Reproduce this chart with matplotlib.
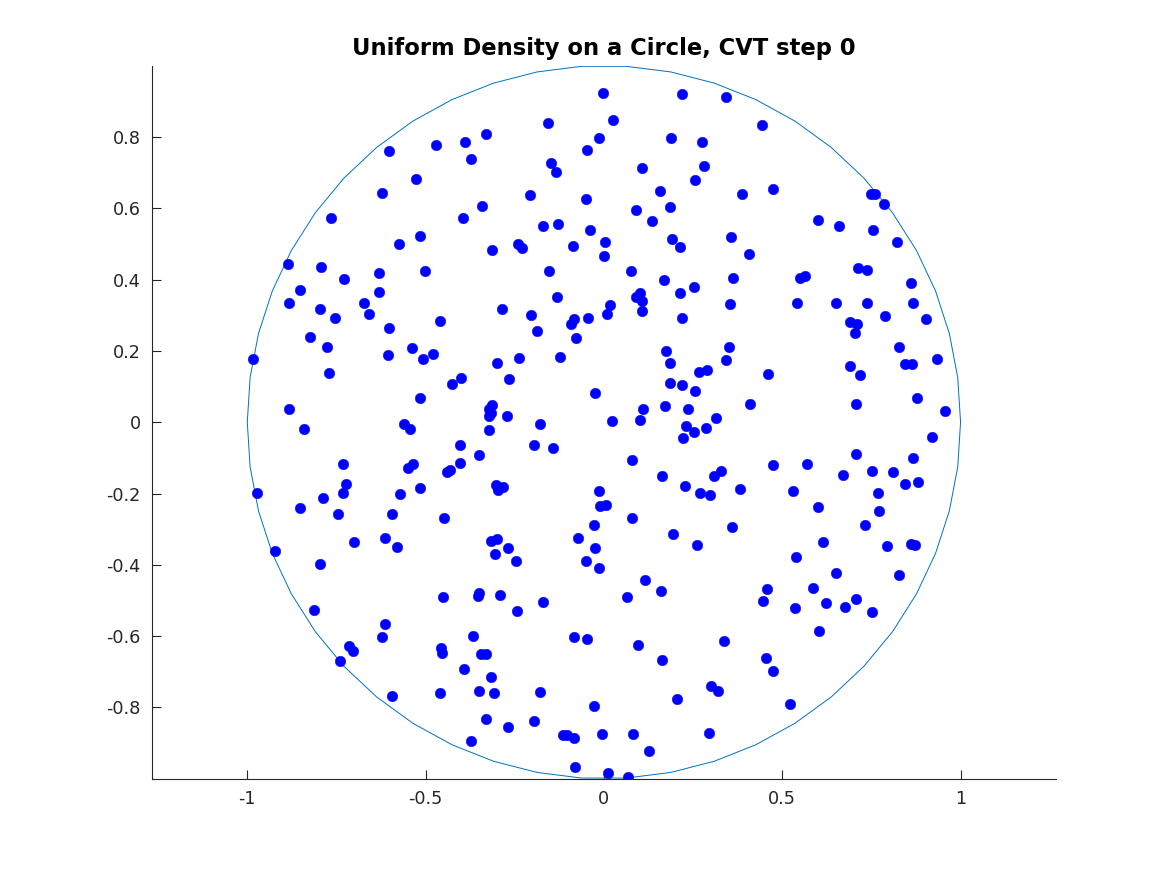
import numpy as np
import matplotlib
matplotlib.use('Agg')
import matplotlib.pyplot as plt

# Generator sites (x, y in data units), grouped by region
x_pts = [
    # upper left
    -0.603, -0.526, -0.622, -0.764, -0.515, -0.575, -0.885, -0.794, -0.729, -0.632, -0.851, -0.630,
    -0.157, -0.470, -0.389, -0.331, -0.373, -0.015, -0.048, -0.148, -0.134, -0.208, -0.050, -0.342,
    -0.395, -0.171, -0.129, -0.038, -0.313, -0.241, -0.230, -0.086, -0.503, -0.155, -0.132,
    # upper right
    -0.002, 0.219, 0.341, 0.025, 0.442, 0.189, 0.275, 0.108, 0.281, 0.254, 0.156, 0.388, 0.473,
    0.090, 0.184, 0.136, 0.002, 0.000, 0.191, 0.214, 0.357, 0.407, 0.077, 0.168, 0.361, 0.213,
    0.252, 0.089, 0.102, 0.108,
    0.750, 0.761, 0.784, 0.601, 0.658, 0.754, 0.821, 0.713, 0.739, 0.550, 0.563, 0.862,
    # middle left
    -0.884, -0.797, -0.672, -0.658, -0.755, -0.602, -0.824, -0.777, -0.537, -0.606, -0.984, -0.771,
    -0.516, -0.884, -0.841, -0.561, -0.545, -0.733, -0.535, -0.548, -0.724, -0.732, -0.973, -0.787,
    -0.572, -0.516, -0.852, -0.747, -0.594, -0.613,
    -0.286, -0.459, -0.204, -0.187, -0.093, -0.085, -0.045, -0.078, -0.478, -0.506, -0.301, -0.238,
    -0.122, -0.401, -0.425, -0.267, -0.024, -0.314, -0.321, -0.317, -0.323, -0.271, -0.178, -0.321,
    -0.403, -0.197, -0.143, -0.349, -0.404, -0.432, -0.440, -0.302, -0.282, -0.296, -0.014, -0.011,
    -0.449, -0.028, -0.072, -0.317, -0.301,
    # middle right
    0.016, 0.009, 0.107, 0.353, 0.218, 0.175, 0.352, 0.341, 0.184, 0.267, 0.290, 0.459, 0.184,
    0.220, 0.256, 0.410, 0.109, 0.170, 0.235, 0.102, 0.022, 0.314, 0.229, 0.252, 0.223, 0.285,
    0.080, 0.162, 0.309, 0.329, 0.473, 0.227, 0.268, 0.298, 0.381, 0.006, 0.078, 0.358, 0.195,
    0.540, 0.652, 0.739, 0.868, 0.787, 0.904, 0.690, 0.711, 0.703, 0.828, 0.934, 0.845, 0.864,
    0.689, 0.719, 0.878, 0.706, 0.956, 0.920, 0.707, 0.866, 0.569, 0.669, 0.752, 0.811, 0.843,
    0.880, 0.530, 0.768, 0.600, 0.772, 0.732,
    # lower left
    -0.702, -0.579, -0.923, -0.797, -0.812, -0.615, -0.622, -0.716, -0.704, -0.740, -0.595,
    -0.269, -0.305, -0.246, -0.025, -0.049, -0.014, -0.452, -0.349, -0.352, -0.291, -0.172, -0.243,
    -0.368, -0.084, -0.048, -0.457, -0.453, -0.346, -0.332, -0.391, -0.317, -0.459, -0.350, -0.307,
    -0.180, -0.028, -0.330, -0.270, -0.196, -0.373, -0.116, -0.104, -0.085, -0.081,
    # lower right
    0.261, 0.115, 0.159, 0.064, 0.456, 0.445, 0.096, 0.163, 0.337, 0.455, 0.473, 0.301, 0.320,
    0.206, -0.006, 0.082, 0.294, 0.127, 0.012, 0.068,
    0.615, 0.794, 0.860, 0.871, 0.538, 0.650, 0.827, 0.587, 0.623, 0.537, 0.677, 0.707, 0.751,
    0.603, 0.522,
]
y_pts = [
    # upper left
    0.760, 0.683, 0.642, 0.573, 0.521, 0.500, 0.445, 0.434, 0.401, 0.418, 0.372, 0.365,
    0.838, 0.777, 0.786, 0.809, 0.737, 0.796, 0.763, 0.726, 0.702, 0.638, 0.627, 0.606,
    0.572, 0.550, 0.557, 0.540, 0.483, 0.499, 0.489, 0.493, 0.423, 0.425, 0.352,
    # upper right
    0.922, 0.921, 0.911, 0.848, 0.834, 0.797, 0.787, 0.713, 0.719, 0.680, 0.648, 0.641, 0.655,
    0.595, 0.603, 0.563, 0.506, 0.465, 0.513, 0.491, 0.518, 0.471, 0.425, 0.400, 0.405, 0.362,
    0.380, 0.351, 0.362, 0.339,
    0.639, 0.641, 0.613, 0.568, 0.549, 0.539, 0.504, 0.432, 0.428, 0.403, 0.409, 0.389,
    # middle left
    0.334, 0.318, 0.334, 0.303, 0.291, 0.263, 0.240, 0.211, 0.207, 0.188, 0.178, 0.139,
    0.067, 0.037, -0.020, -0.006, -0.018, -0.116, -0.116, -0.129, -0.173, -0.198, -0.199, -0.213,
    -0.201, -0.184, -0.240, -0.257, -0.257, -0.326,
    0.318, 0.284, 0.302, 0.257, 0.276, 0.290, 0.292, 0.235, 0.191, 0.176, 0.165, 0.181,
    0.184, 0.124, 0.107, 0.121, 0.083, 0.047, 0.038, 0.025, 0.017, 0.018, -0.004, -0.022,
    -0.065, -0.064, -0.071, -0.093, -0.114, -0.134, -0.141, -0.176, -0.183, -0.191, -0.194, -0.234,
    -0.270, -0.289, -0.325, -0.332, -0.328,
    # middle right
    0.328, 0.303, 0.313, 0.331, 0.293, 0.201, 0.211, 0.174, 0.166, 0.140, 0.146, 0.134, 0.111,
    0.104, 0.087, 0.052, 0.037, 0.044, 0.036, 0.007, 0.002, 0.013, -0.010, -0.028, -0.044, -0.017,
    -0.105, -0.151, -0.151, -0.137, -0.120, -0.178, -0.199, -0.203, -0.187, -0.233, -0.269, -0.294, -0.313,
    0.334, 0.334, 0.334, 0.334, 0.297, 0.288, 0.282, 0.274, 0.251, 0.211, 0.178, 0.162, 0.162,
    0.157, 0.131, 0.067, 0.052, 0.030, -0.042, -0.088, -0.100, -0.118, -0.148, -0.136, -0.139, -0.173,
    -0.169, -0.192, -0.199, -0.237, -0.249, -0.287,
    # lower left
    -0.336, -0.350, -0.362, -0.397, -0.527, -0.565, -0.602, -0.629, -0.641, -0.671, -0.767,
    -0.354, -0.371, -0.388, -0.352, -0.389, -0.410, -0.490, -0.478, -0.488, -0.485, -0.504, -0.530,
    -0.599, -0.602, -0.608, -0.633, -0.648, -0.651, -0.651, -0.693, -0.716, -0.760, -0.753, -0.759,
    -0.758, -0.796, -0.833, -0.854, -0.838, -0.893, -0.878, -0.878, -0.885, -0.966,
    # lower right
    -0.345, -0.442, -0.473, -0.490, -0.467, -0.501, -0.625, -0.666, -0.615, -0.662, -0.697, -0.739, -0.754,
    -0.776, -0.875, -0.875, -0.872, -0.922, -0.984, -0.994,
    -0.336, -0.347, -0.343, -0.345, -0.377, -0.424, -0.429, -0.465, -0.506, -0.522, -0.518, -0.496, -0.533,
    -0.586, -0.789,
]

x_ticks = [-1, -0.5, 0, 0.5, 1]
x_tick_labels = ['-1', '-0.5', '0', '0.5', '1']
y_ticks = [-0.8, -0.6, -0.4, -0.2, 0, 0.2, 0.4, 0.6, 0.8]
y_tick_labels = ['-0.8', '-0.6', '-0.4', '-0.2', '0', '0.2', '0.4', '0.6', '0.8']

title = 'Uniform Density on a Circle, CVT step 0'
n_circle = 51  # boundary polygon vertices (closed)

axis_gray = '#262626'

fig = plt.figure(figsize=(11.67, 8.75), dpi=100)
ax = fig.add_axes([0.13, 0.11, 0.775, 0.815])

# boundary polygon
theta = np.linspace(0, 2 * np.pi, n_circle)
ax.plot(np.cos(theta), np.sin(theta), color='#0072BD', linewidth=0.7)

# generators
ax.plot(x_pts, y_pts, linestyle='none', marker='o', markersize=7.6,
        markerfacecolor='#0000FF', markeredgecolor='#0000FF', markeredgewidth=0.3)

ax.set_aspect('equal', adjustable='datalim')
ax.set_ylim(-1, 1)
ax.set_xlim(-1.268, 1.268)

ax.spines['top'].set_visible(False)
ax.spines['right'].set_visible(False)
for side in ('left', 'bottom'):
    ax.spines[side].set_color(axis_gray)
    ax.spines[side].set_linewidth(0.8)

ax.set_xticks(x_ticks)
ax.set_xticklabels(x_tick_labels)
ax.set_yticks(y_ticks)
ax.set_yticklabels(y_tick_labels)
ax.tick_params(direction='in', length=6.5, width=0.8, color=axis_gray,
               labelcolor=axis_gray, labelsize=12.7, pad=8)

ax.set_title(title, fontsize=16.3, fontweight='bold', pad=8)

fig.savefig('out.png', dpi=100)
plt.close(fig)
